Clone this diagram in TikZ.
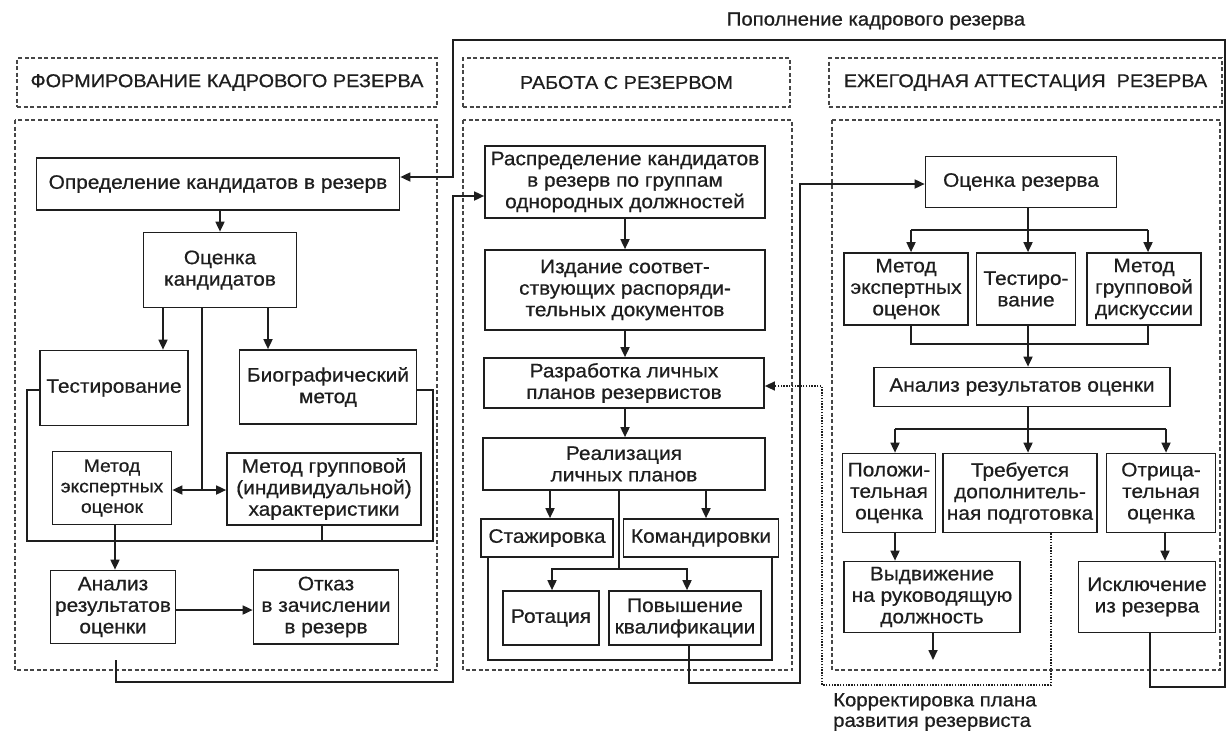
\documentclass[tikz,border=0pt]{standalone}
\usepackage{fontspec}
\setmainfont{Liberation Sans}[FakeStretch=1.07,FakeBold=0.6]
\usetikzlibrary{arrows.meta}
\definecolor{ink}{RGB}{30,30,30}
\definecolor{dashc}{RGB}{70,70,70}
\begin{document}
\begin{tikzpicture}[x=1pt,y=-1pt,
  every node/.style={text=ink},
  box/.style={draw=ink, line width=1.7pt, align=center, inner sep=0pt,
    font=\fontsize{19.5}{21.5}\selectfont},
  hdr/.style={draw=dashc, line width=1.3pt, dash pattern=on 4pt off 2.5pt,
    inner sep=0pt, font=\fontsize{18.6}{21.5}\selectfont},
  frame/.style={draw=dashc, line width=1.3pt, dash pattern=on 4pt off 2.5pt},
  conn/.style={draw=ink, line width=1.7pt},
  arr/.style={conn, -{Triangle[length=10pt,width=9pt]}},
  dotarr/.style={draw=ink, line width=1.4pt, dash pattern=on 1.4pt off 1.4pt, -{Triangle[length=10pt,width=9pt]}},
  lbl/.style={font=\fontsize{19}{20.5}\selectfont, inner sep=0pt}
]
\useasboundingbox (0,0) rectangle (1228,731);
\fill[white] (0,0) rectangle (1228,731);

% headers
\node[hdr, minimum width=420pt, minimum height=49pt] (h1) at (227,82.5) {ФОРМИРОВАНИЕ КАДРОВОГО РЕЗЕРВА};
\node[hdr, minimum width=327pt, minimum height=49pt] (h2) at (626.5,82.5) {РАБОТА С РЕЗЕРВОМ};
\node[hdr, minimum width=393pt, minimum height=49pt] (h3) at (1025.5,82.5) {ЕЖЕГОДНАЯ АТТЕСТАЦИЯ\ \ РЕЗЕРВА};

% frames
\draw[frame] (15,120) rectangle (437,670);
\draw[frame] (463,120) rectangle (792,670);
\draw[frame] (832,120) rectangle (1220,670);

% left column
\node[box, minimum width=363pt, minimum height=52pt] (n1) at (218,184) {Определение кандидатов в резерв};
\node[box, minimum width=153pt, minimum height=75pt] (n2) at (220,270) {Оценка\\кандидатов};
\node[box, minimum width=148pt, minimum height=75pt] (n3) at (114,388) {Тестирование};
\node[box, minimum width=177pt, minimum height=74pt] (n4) at (328,387) {Биографический\\метод};
\node[box, minimum width=119pt, minimum height=73pt, font=\fontsize{18}{20.5}\selectfont] (n5) at (112,488) {Метод\\экспертных\\оценок};
\node[box, minimum width=194pt, minimum height=72pt] (n6) at (324,489) {Метод групповой\\(индивидуальной)\\характеристики};
\node[box, minimum width=125pt, minimum height=73pt] (n7) at (113,607) {Анализ\\результатов\\оценки};
\node[box, minimum width=145pt, minimum height=74pt] (n8) at (326,607) {Отказ\\в зачислении\\в резерв};

% middle column
\node[box, minimum width=280pt, minimum height=72pt] (m1) at (625,182) {Распределение кандидатов\\в резерв по группам\\однородных должностей};
\node[box, minimum width=280pt, minimum height=80pt] (m2) at (625,290) {Издание соответ-\\ствующих распоряди-\\тельных документов};
\node[box, minimum width=280pt, minimum height=50pt] (m3) at (624,383) {Разработка личных\\планов резервистов};
\node[box, minimum width=282pt, minimum height=52pt] (m4) at (624,464) {Реализация\\личных планов};
\node[box, minimum width=132pt, minimum height=38pt] (m5) at (547,538) {Стажировка};
\node[box, minimum width=155pt, minimum height=38pt] (m6) at (701,538) {Командировки};
\node[box, minimum width=96pt, minimum height=54pt] (m7) at (551,618) {Ротация};
\node[box, minimum width=152pt, minimum height=54pt] (m8) at (685,618) {Повышение\\квалификации};

% right column
\node[box, minimum width=191pt, minimum height=51pt] (r1) at (1021,182) {Оценка резерва};
\node[box, minimum width=124pt, minimum height=72pt] (r2) at (906,289) {Метод\\экспертных\\оценок};
\node[box, minimum width=99pt, minimum height=72pt] (r3) at (1026,289) {Тестиро-\\вание};
\node[box, minimum width=114pt, minimum height=72pt] (r4) at (1144,289) {Метод\\групповой\\дискуссии};
\node[box, minimum width=296pt, minimum height=39pt] (r5) at (1022,387) {Анализ результатов оценки};
\node[box, minimum width=93pt, minimum height=79pt] (r6) at (889,493) {Положи-\\тельная\\оценка};
\node[box, minimum width=154pt, minimum height=79pt] (r7) at (1020,493) {Требуется\\дополнитель-\\ная подготовка};
\node[box, minimum width=109pt, minimum height=79pt] (r8) at (1161,493) {Отрица-\\тельная\\оценка};
\node[box, minimum width=176pt, minimum height=71pt] (r9) at (932,597) {Выдвижение\\на руководящую\\должность};
\node[box, minimum width=137pt, minimum height=71pt] (r10) at (1147,597) {Исключение\\из резерва};

% labels
\node[lbl] (l1) at (876,21) {Пополнение кадрового резерва};
\node[lbl, align=left, anchor=west] (l2) at (833,712) {Корректировка плана\\развития резервиста};

% ---- left connectors
\draw[arr] (n2.north |- n1.south) -- (n2.north);
\draw[arr] (163,0 |- n2.south) -- (163,0 |- n3.north);
\draw[arr] (268,0 |- n2.south) -- (268,0 |- n4.north);
\coordinate (j1) at (202,490);
\draw[conn] (202,0 |- n2.south) -- (j1);
\draw[arr] (j1) -- (n5.east |- j1);
\draw[arr] (j1) -- (n6.west |- j1);
\draw[conn] (n3.west |- 0,390) -- (27,390) -- (27,541) -- (433,541) -- (433,390) -- (n4.east |- 0,390);
\draw[conn] (322,0 |- n6.south) -- (322,541);
\draw[arr] (115,0 |- n5.south) -- (115,0 |- n7.north);
\draw[arr] (n7.east |- 0,610) -- (n8.west |- 0,610);

% feedback: Исключение -> Определение
\draw[arr] (1150,0 |- r10.south) -- (1150,687) -- (1225,687) -- (1225,40) -- (453,40) -- (453,177) -- (n1.east |- 0,177);

% Анализ -> Распределение
\coordinate (s1) at (116,660);
\draw[arr] (s1) -- (116,682) -- (453,682) -- (453,196) -- (m1.west |- 0,196);

% ---- middle connectors
\draw[arr] (625,0 |- m1.south) -- (625,0 |- m2.north);
\draw[arr] (625,0 |- m2.south) -- (625,0 |- m3.north);
\draw[arr] (625,0 |- m3.south) -- (625,0 |- m4.north);
\draw[arr] (550,0 |- m4.south) -- (550,0 |- m5.north);
\draw[arr] (706,0 |- m4.south) -- (706,0 |- m6.north);
\coordinate (j2) at (619,569);
\draw[conn] (619,0 |- m4.south) -- (j2);
\draw[arr] (j2) -- (552,569) -- (552,0 |- m7.north);
\draw[arr] (j2) -- (687,569) -- (687,0 |- m8.north);
\draw[conn] (488,0 |- m5.south) -- (488,660) -- (772,660) -- (772,0 |- m6.south);
\draw[arr] (689,0 |- m8.south) -- (689,683) -- (800,683) -- (800,184) -- (r1.west |- 0,184);

% dotted: Требуется -> Разработка
\draw[dotarr] (1051,0 |- r7.south) -- (1051,685) -- (822,685) -- (822,386) -- (m3.east |- 0,386);

% ---- right connectors
\draw[conn] (1028,0 |- r1.south) -- (1028,230);
\draw[conn] (911,230) -- (1148,230);
\draw[arr] (911,230) -- (911,0 |- r2.north);
\draw[arr] (1028,230) -- (1028,0 |- r3.north);
\draw[arr] (1148,230) -- (1148,0 |- r4.north);
\draw[conn] (911,0 |- r2.south) -- (911,344) -- (1148,344) -- (1148,0 |- r4.south);
\draw[arr] (1028,0 |- r3.south) -- (1028,0 |- r5.north);
\draw[conn] (1028,0 |- r5.south) -- (1028,429);
\draw[conn] (895,429) -- (1166,429);
\draw[arr] (895,429) -- (895,0 |- r6.north);
\draw[arr] (1028,429) -- (1028,0 |- r7.north);
\draw[arr] (1166,429) -- (1166,0 |- r8.north);
\draw[arr] (895,0 |- r6.south) -- (895,0 |- r9.north);
\coordinate (e1) at (933,660);
\draw[arr] (933,0 |- r9.south) -- (e1);
\draw[arr] (1165,0 |- r8.south) -- (1165,0 |- r10.north);
\end{tikzpicture}
\end{document}
